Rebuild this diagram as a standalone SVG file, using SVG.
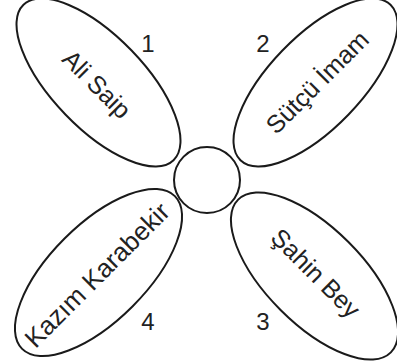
<svg xmlns="http://www.w3.org/2000/svg" width="397" height="364" viewBox="0 0 397 364">
<style>
.sh{fill:none;stroke:#1a1a1a;stroke-width:2}
.lbl{font-family:"Liberation Sans",Arial,sans-serif;font-size:25px;fill:#222;text-anchor:middle;dominant-baseline:central}
.num{font-family:"Liberation Sans",Arial,sans-serif;font-size:24px;fill:#222;text-anchor:middle}
</style>
<rect width="397" height="364" fill="#fff"/>
<g id="center"><circle class="sh" cx="207" cy="180" r="33"/></g>
<g id="n1">
<ellipse class="sh" cx="98.5" cy="82.5" rx="108" ry="46" transform="rotate(46 98.5 82.5)"/>
<text class="lbl" x="97" y="84" transform="rotate(45 97 84)">Ali Saip</text>
<text class="num" x="148" y="52">1</text>
</g>
<g id="n2">
<ellipse class="sh" cx="315.5" cy="82.5" rx="108" ry="46" transform="rotate(-46 315.5 82.5)"/>
<text class="lbl" x="317" y="82" transform="rotate(-45 317 82)">Sütçü İmam</text>
<text class="num" x="263" y="52">2</text>
</g>
<g id="n3">
<ellipse class="sh" cx="314.5" cy="276" rx="108" ry="48" transform="rotate(45 314.5 276)"/>
<text class="lbl" x="316" y="273" transform="rotate(45 316 273)">Şahin Bey</text>
<text class="num" x="263" y="330">3</text>
</g>
<g id="n4">
<ellipse class="sh" cx="98.5" cy="272.5" rx="108" ry="48" transform="rotate(-45 98.5 272.5)"/>
<text class="lbl" x="97" y="275" style="font-size:26px" transform="rotate(-45 97 275)">Kazım Karabekir</text>
<text class="num" x="148" y="330">4</text>
</g>
<g id="connectors"></g>
</svg>
